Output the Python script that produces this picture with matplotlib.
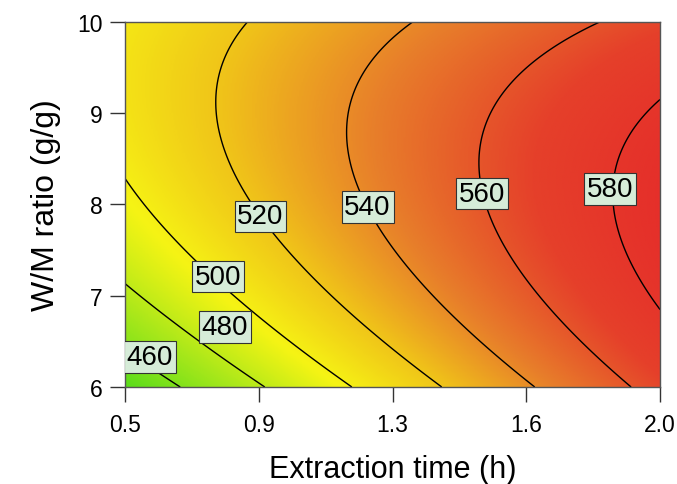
import numpy as np
import matplotlib
matplotlib.use("Agg")
import matplotlib.pyplot as plt
from matplotlib.colors import LinearSegmentedColormap

plt.rcParams["font.family"] = ["Liberation Sans", "DejaVu Sans"]

# Quadratic response-surface model: yield = f(extraction time, W/M ratio)
# terms: intercept, t, r, t^2, r^2, t*r
model_terms = ["1", "t", "r", "t^2", "r^2", "t*r"]
model_coef = [-29.791, 149.438, 103.653, -5.120, -5.288, -9.524]

time_range = [0.5, 2.0]
ratio_range = [6, 10]
contour_levels = [460, 480, 500, 520, 540, 560, 580]
x_ticks = [0.5, 0.875, 1.25, 1.625, 2.0]
x_tick_labels = ["0.5", "0.9", "1.3", "1.6", "2.0"]
y_ticks = [6, 7, 8, 9, 10]

# where each contour label sits, in level order
label_spots = [(0.57, 6.33), (0.78, 6.66), (0.76, 7.21), (0.88, 7.87),
               (1.18, 7.97), (1.50, 8.12), (1.86, 8.17)]


def response(t, r):
    c = model_coef
    return c[0] + c[1] * t + c[2] * r + c[3] * t ** 2 + c[4] * r ** 2 + c[5] * t * r


t = np.linspace(*time_range, 400)
r = np.linspace(*ratio_range, 400)
T, R = np.meshgrid(t, r)
Z = response(T, R)

cmap = LinearSegmentedColormap.from_list("ramp", [
    (0.0, "#55dc1a"), (0.2, "#ade81a"), (0.36, "#f6f414"),
    (0.52, "#f0c419"), (0.68, "#e8802a"), (0.85, "#e5402a"), (1.0, "#e52d2a")])

fig = plt.figure(figsize=(6.77, 4.85), dpi=100)
ax = fig.add_axes([0.1846, 0.2, 0.7904, 0.7526])
ax.imshow(Z, extent=(*time_range, *ratio_range), origin="lower",
          aspect="auto", cmap=cmap, vmin=445, vmax=590, interpolation="bilinear")
cs = ax.contour(T, R, Z, levels=contour_levels, colors="black", linewidths=1)
labels = ax.clabel(cs, fmt="%d", manual=label_spots, inline=False, fontsize=20)
for txt in labels:
    val = int(txt.get_text())
    txt.set_position(label_spots[contour_levels.index(val)])
    txt.set_rotation(0)
    txt.set_zorder(5)
    txt.set_bbox(dict(boxstyle="square,pad=0.1", facecolor="#d6ecd8",
                      edgecolor="#333333", linewidth=0.8))

ax.set_xlim(*time_range)
ax.set_ylim(*ratio_range)
ax.set_xticks(x_ticks)
ax.set_xticklabels(x_tick_labels)
ax.set_yticks(y_ticks)
ax.tick_params(direction="out", length=11, width=1, labelsize=16.5,
               color="#333333", pad=5)
ax.tick_params(axis="x", pad=8)
for s in ax.spines.values():
    s.set_color("#555555")
    s.set_linewidth(1)

ax.set_xlabel("Extraction time (h)", fontsize=22, labelpad=13)
ax.set_ylabel("W/M ratio (g/g)", fontsize=23, labelpad=12)

fig.savefig("out.png", dpi=100)
